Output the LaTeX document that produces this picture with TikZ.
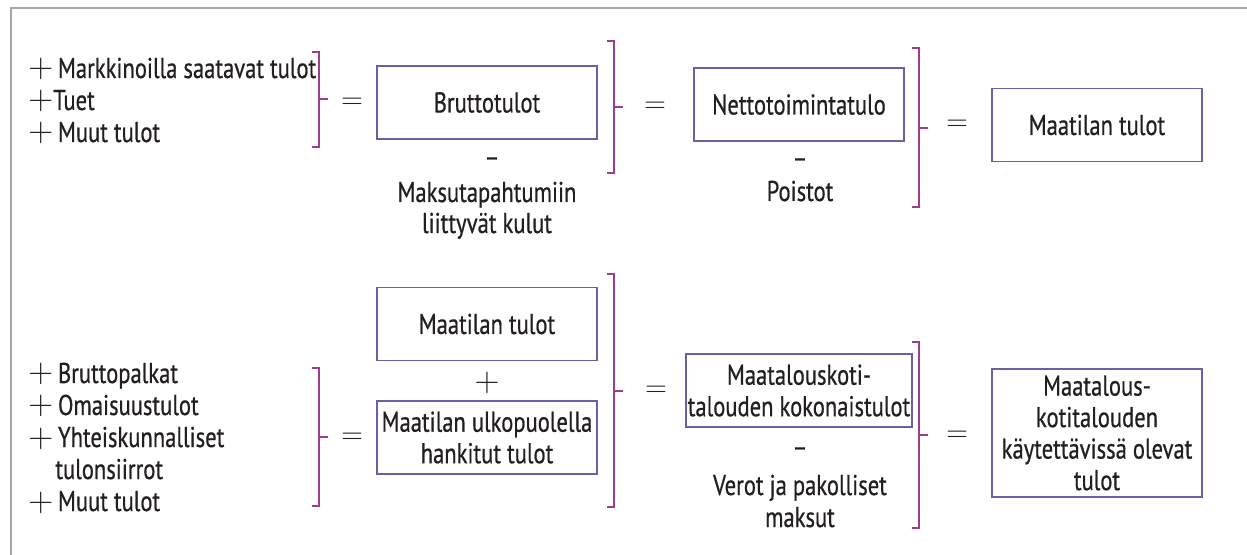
\documentclass[tikz,border=0pt]{standalone}
\usepackage{fontspec}
\setmainfont{PT Sans}[FakeStretch=0.79,FakeBold=0.6]
\usetikzlibrary{positioning}
\definecolor{brakcol}{HTML}{9C3D8F}
\definecolor{boxcol}{HTML}{6B5FA8}
\definecolor{txtcol}{HTML}{231F20}
\definecolor{framecol}{HTML}{A6A6A6}

% bracket: x, top, bottom, tick
\newcommand{\tulobrak}[4]{%
  \draw[brak] (#1-7,#2) -- (#1,#2) -- (#1,#3) -- (#1-7,#3);
  \draw[brak] (#1,#4) -- (#1+9,#4);
}
\newcommand{\pl}{{\fontsize{16}{16}\selectfont$+$}}

\begin{document}
\begin{tikzpicture}[x=0.5pt,y=-0.5pt,
    every node/.style={text=txtcol,font=\fontsize{14.3}{15.75}\selectfont},
    tulo/.style={draw=boxcol,line width=0.8pt,minimum width=110pt,minimum height=36.5pt,align=center,inner sep=1pt},
    rivi/.style={anchor=base west,inner sep=0pt},
    alle/.style={anchor=base,inner sep=0pt},
    yht/.style={font=\fontsize{14}{14}\selectfont,inner sep=0pt},
    brak/.style={draw=brakcol,line width=1pt}]
  \useasboundingbox (0,0) rectangle (1247,555);
  \draw[framecol,line width=1pt] (1247,8) -- (11,8) -- (11,555);

  % top row
  \node[rivi] (mark) at (28,78) {\pl\,Markkinoilla saatavat tulot};
  \node[rivi] (tuet) at (28,110) {\pl Tuet};
  \node[rivi] (muut1) at (28,142) {\pl\,Muut tulot};
  \tulobrak{319}{52}{147}{99}
  \node[yht] (eq1) at (352,103) {$=$};
  \node[tulo] (brutto) at (487,102.5) {Bruttotulot};
  \node (miinus1) at (492,162) {–};
  \node[alle] (kulut1) at (487,202) {Maksutapahtumiin};
  \node[alle] (kulut2) at (487,233) {liittyvät kulut};
  \tulobrak{614}{41}{173}{107}
  \node[yht] (eq2) at (655,107) {$=$};
  \node[tulo, minimum width=105pt] (netto) at (799,104.5) {Nettotoimintatulo};
  \node (miinus2) at (800,163) {–};
  \node[alle] (poistot) at (800,201) {Poistot};
  \tulobrak{919}{48}{207}{128}
  \node[yht] (eq3) at (957,125) {$=$};
  \node[tulo, minimum width=105pt] (maatila) at (1097,125) {Maatilan tulot};

  % bottom row
  \node[rivi] (palkat) at (28,383) {\pl\,Bruttopalkat};
  \node[rivi] (omai) at (28,415) {\pl\,Omaisuustulot};
  \node[rivi] (yhteis) at (28,447) {\pl\,Yhteiskunnalliset};
  \node[rivi] (siirrot) at (55,479) {tulonsiirrot};
  \node[rivi] (muut2) at (28,511) {\pl\,Muut tulot};
  \tulobrak{319}{368}{506}{437}
  \node[yht] (eq4) at (352,438) {$=$};
  \node[tulo] (maatila2) at (487,324) {Maatilan tulot};
  \node (plus) at (487,383) {\pl};
  \node[tulo] (ulko) at (487,437.5) {Maatilan ulkopuolella\\hankitut tulot};
  \tulobrak{614}{274}{507}{391}
  \node[yht] (eq5) at (656,391) {$=$};
  \node[tulo, minimum width=105pt] (koko) at (799,390.5) {Maatalouskoti-\\talouden kokonaistulot};
  \node (miinus3) at (800,452) {–};
  \node[alle] (verot1) at (800,495) {Verot ja pakolliset};
  \node[alle] (verot2) at (800,527) {maksut};
  \tulobrak{919}{342}{528}{435}
  \node[yht] (eq6) at (957,436) {$=$};
  \node[tulo, minimum width=105pt, minimum height=64pt] (kaytett) at (1097,433) {Maatalous-\\kotitalouden\\käytettävissä olevat\\tulot};
\end{tikzpicture}
\end{document}
